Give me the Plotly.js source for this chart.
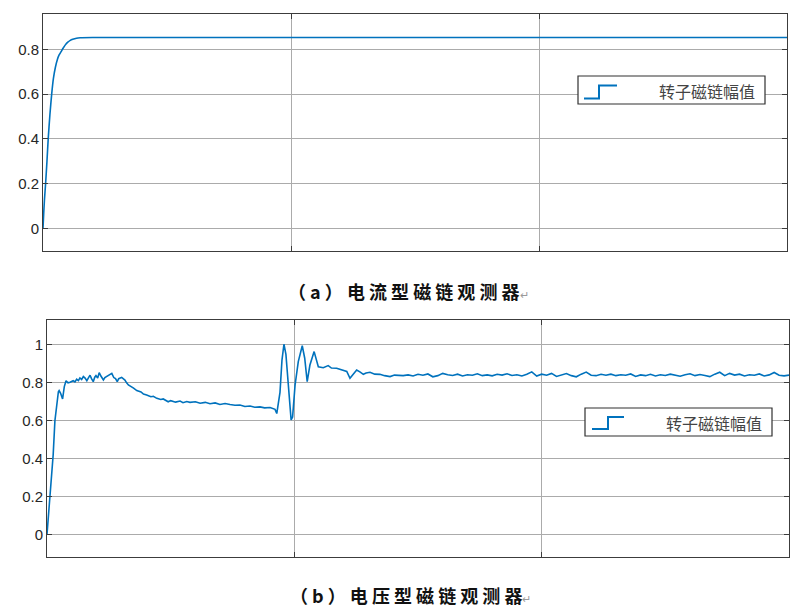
<!DOCTYPE html>
<html>
<head>
<meta charset="utf-8">
<script src="https://cdn.plot.ly/plotly-3.0.1.min.js"></script>
<style>
  html, body { margin: 0; padding: 0; background: #fff; }
  #chart { width: 798px; height: 611px; }
</style>
</head>
<body>
<div id="chart"></div>
<script>
// (a) current-model observer: smooth rise to steady value
const timeA = [0, 0.003, 0.006, 0.0105, 0.016, 0.021, 0.028, 0.035, 0.042, 0.05, 0.058, 0.065, 0.073, 0.081, 0.09, 0.1, 0.11, 0.12, 0.135, 0.15, 0.2, 0.5, 1, 1.5, 2, 2.5, 3];
const fluxA = [0, 0.07, 0.13, 0.2, 0.3, 0.4, 0.51, 0.6, 0.67, 0.72, 0.755, 0.775, 0.79, 0.805, 0.82, 0.832, 0.84, 0.845, 0.85, 0.852, 0.853, 0.853, 0.853, 0.853, 0.853, 0.853, 0.853];

// (b) voltage-model observer: noisy, disturbance near t = 1
const timeB = [
  0, 0.012, 0.025, 0.032, 0.04, 0.046, 0.049, 0.055, 0.063, 0.07, 0.077, 0.085, 0.093, 0.1, 0.106, 0.113,
  0.12, 0.127, 0.133, 0.14, 0.147, 0.154, 0.161, 0.168, 0.174, 0.18, 0.187, 0.193, 0.198, 0.205, 0.211,
  0.218, 0.228, 0.234, 0.241, 0.25, 0.262, 0.27, 0.277, 0.284, 0.29, 0.302, 0.31, 0.315, 0.322, 0.329,
  0.35, 0.363, 0.38, 0.39, 0.403, 0.42, 0.43, 0.444, 0.46, 0.47, 0.49, 0.5, 0.52, 0.538, 0.55, 0.565,
  0.578, 0.6, 0.619, 0.64, 0.659, 0.68, 0.699, 0.72, 0.74, 0.76, 0.78, 0.8, 0.821, 0.84, 0.861, 0.88,
  0.902, 0.915, 0.922, 0.929, 0.942, 0.95, 0.958, 0.966, 0.976, 0.987, 0.993, 1.003, 1.016, 1.032, 1.042,
  1.052, 1.063, 1.08, 1.097, 1.117, 1.137, 1.15, 1.171, 1.185, 1.198, 1.212, 1.225, 1.24, 1.252, 1.265,
  1.279, 1.29, 1.306, 1.325, 1.346, 1.365, 1.387, 1.405, 1.427,
  1.44, 1.46, 1.48, 1.5, 1.52, 1.54, 1.56, 1.58, 1.6, 1.62, 1.64, 1.66, 1.68, 1.7, 1.72, 1.74, 1.76, 1.78,
  1.8, 1.82, 1.84, 1.86, 1.88, 1.9, 1.92, 1.94, 1.96, 1.98, 2, 2.02, 2.04, 2.06, 2.08, 2.1, 2.12, 2.14,
  2.16, 2.18, 2.2, 2.22, 2.24, 2.26, 2.28, 2.3, 2.32, 2.34, 2.36, 2.38, 2.4, 2.42, 2.44, 2.46, 2.48, 2.5,
  2.52, 2.54, 2.56, 2.58, 2.6, 2.62, 2.64, 2.66, 2.68, 2.7, 2.72, 2.74, 2.76, 2.78, 2.8, 2.82, 2.84, 2.86,
  2.88, 2.9, 2.92, 2.94, 2.96, 2.98, 3
];
const fluxB = [
  0, 0.2, 0.42, 0.6, 0.7, 0.753, 0.759, 0.745, 0.715, 0.78, 0.811, 0.8, 0.803, 0.808, 0.811, 0.805,
  0.819, 0.812, 0.826, 0.818, 0.833, 0.825, 0.811, 0.828, 0.84, 0.822, 0.806, 0.83, 0.838, 0.826, 0.854,
  0.836, 0.815, 0.828, 0.833, 0.84, 0.85, 0.828, 0.822, 0.806, 0.822, 0.829, 0.823, 0.815, 0.8, 0.789,
  0.772, 0.759, 0.752, 0.741, 0.736, 0.727, 0.729, 0.718, 0.712, 0.715, 0.7, 0.706, 0.698, 0.704, 0.695, 0.701,
  0.697, 0.7, 0.692, 0.697, 0.69, 0.694, 0.686, 0.691, 0.686, 0.682, 0.683, 0.675, 0.678, 0.671, 0.673, 0.668,
  0.67, 0.664, 0.66, 0.638, 0.75, 0.92, 1.004, 0.95, 0.789, 0.604, 0.62, 0.789, 0.912, 0.996, 0.93,
  0.806, 0.894, 0.965, 0.885, 0.88, 0.891, 0.878, 0.877, 0.872, 0.868, 0.86, 0.824, 0.85, 0.868, 0.858,
  0.845, 0.852, 0.856, 0.846, 0.845, 0.838, 0.833, 0.841, 0.84,
  0.838, 0.842, 0.836, 0.845, 0.84, 0.847, 0.832, 0.838, 0.85, 0.843, 0.839, 0.846, 0.836, 0.843, 0.84, 0.848, 0.838, 0.842,
  0.837, 0.845, 0.841, 0.848, 0.839, 0.843, 0.836, 0.845, 0.858, 0.836, 0.846, 0.84, 0.85, 0.834, 0.842, 0.849, 0.838, 0.832,
  0.846, 0.857, 0.84, 0.838, 0.845, 0.84, 0.846, 0.838, 0.843, 0.84, 0.847, 0.834, 0.842, 0.838, 0.845, 0.836, 0.843, 0.839,
  0.846, 0.84, 0.835, 0.843, 0.848, 0.838, 0.844, 0.839, 0.833, 0.846, 0.856, 0.838, 0.85, 0.841, 0.846, 0.836, 0.843, 0.84,
  0.847, 0.836, 0.842, 0.855, 0.84, 0.837, 0.841
];

const yTicksA = [0, 0.2, 0.4, 0.6, 0.8];
const yTicksB = [0, 0.2, 0.4, 0.6, 0.8, 1];
const yTickTextA = ["0", "0.2", "0.4", "0.6", "0.8"];
const yTickTextB = ["0", "0.2", "0.4", "0.6", "0.8", "1"];
const xGrid = [1, 2];

const legendLabel = "转子磁链幅值";
const returnMark = '<span style="font-size:11px;color:#9a9a9a;font-weight:400">↵</span>';
const captionA = "（ a ） 电 流 型 磁 链 观 测 器" + returnMark;
const captionB = "（ b ） 电 压 型 磁 链 观 测 器" + returnMark;

const W = 798, H = 611;
const px = x => x / W;
const py = y => 1 - y / H;

const lineBlue = "#0072BD";
const edge = "#3c3c3c";

const yAxisBase = {
  showline: true, linecolor: edge, linewidth: 1, mirror: "ticks",
  ticks: "inside", ticklen: 5, tickcolor: edge, tickwidth: 1,
  showgrid: true, gridcolor: "#ababab", gridwidth: 1, zeroline: false,
  tickfont: { family: "Liberation Sans, Arial, sans-serif", size: 15, color: "#262626" },
  fixedrange: true
};
const xAxisBase = {
  showline: true, linecolor: edge, linewidth: 1, mirror: "ticks",
  ticks: "inside", ticklen: 5, tickcolor: edge,
  showgrid: true, gridcolor: "#ababab", gridwidth: 1, zeroline: false,
  range: [0, 3], tickvals: xGrid, showticklabels: false, fixedrange: true
};

// hand-drawn legend (box + step icon + label), like a Simulink scope
const legendShapes = (x0, y0, x1, y1, ix0, ix1, ix2, iyLow, iyHigh) => [
  { type: "rect", xref: "paper", yref: "paper",
    x0: px(x0), x1: px(x1), y0: py(y1), y1: py(y0),
    line: { color: "#303030", width: 1.2 }, fillcolor: "#fff", layer: "above" },
  { type: "path", xref: "paper", yref: "paper", layer: "above",
    path: `M ${px(ix0)},${py(iyLow)} L ${px(ix1)},${py(iyLow)} L ${px(ix1)},${py(iyHigh)} L ${px(ix2)},${py(iyHigh)}`,
    line: { color: lineBlue, width: 2 } }
];

const traces = [
  { x: timeA, y: fluxA, xaxis: "x", yaxis: "y", type: "scatter", mode: "lines",
    line: { color: lineBlue, width: 1.6, shape: "spline", smoothing: 0.6 }, showlegend: false, hoverinfo: "skip" },
  { x: timeB, y: fluxB, xaxis: "x2", yaxis: "y2", type: "scatter", mode: "lines",
    line: { color: lineBlue, width: 1.6 }, showlegend: false, hoverinfo: "skip" }
];

const capFont = { family: "Noto Sans CJK SC, sans-serif", size: 18, color: "#111", weight: 700 };
const legFont = { family: "Noto Sans CJK SC, sans-serif", size: 16, color: "#444" };

const layout = {
  width: W, height: H,
  margin: { l: 0, r: 0, t: 0, b: 0 },
  paper_bgcolor: "#fff", plot_bgcolor: "#fff",
  showlegend: false,
  xaxis: { ...xAxisBase, domain: [px(43), px(787)], anchor: "y" },
  yaxis: { ...yAxisBase, domain: [py(251), py(14)], anchor: "x",
    range: [-0.101, 0.958], tickvals: yTicksA, ticktext: yTickTextA },
  xaxis2: { ...xAxisBase, domain: [px(47), px(789)], anchor: "y2" },
  yaxis2: { ...yAxisBase, domain: [py(557), py(320)], anchor: "x2",
    range: [-0.12, 1.132], tickvals: yTicksB, ticktext: yTickTextB },
  shapes: [
    ...legendShapes(578, 76, 765, 104, 584, 599, 617, 98.5, 85.5),
    ...legendShapes(585, 408, 772, 436, 592, 608, 624, 429, 417)
  ],
  annotations: [
    { text: legendLabel, xref: "paper", yref: "paper", x: px(757), y: py(91),
      xanchor: "right", yanchor: "middle", showarrow: false, font: legFont },
    { text: legendLabel, xref: "paper", yref: "paper", x: px(764), y: py(423),
      xanchor: "right", yanchor: "middle", showarrow: false, font: legFont },
    { text: captionA, xref: "paper", yref: "paper", x: px(408), y: py(291),
      xanchor: "center", yanchor: "middle", showarrow: false, font: capFont },
    { text: captionB, xref: "paper", yref: "paper", x: px(410), y: py(595),
      xanchor: "center", yanchor: "middle", showarrow: false, font: capFont }
  ]
};

Plotly.newPlot("chart", traces, layout, { displayModeBar: false, staticPlot: true });
</script>
</body>
</html>
